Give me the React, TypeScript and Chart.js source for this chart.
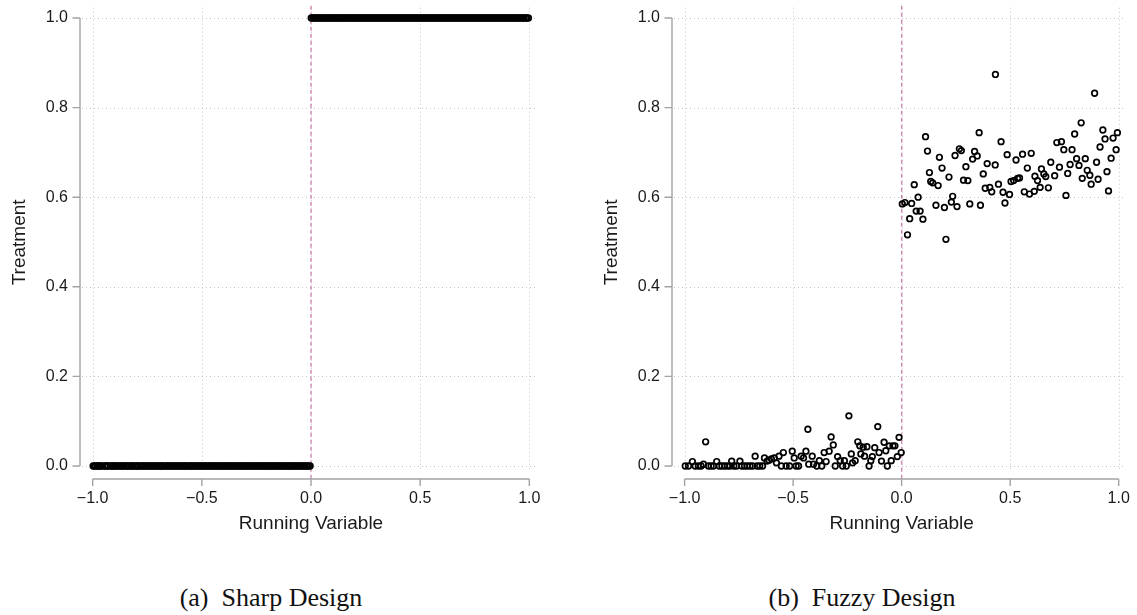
import { useEffect, useRef } from "react";
import { Chart, registerables } from "chart.js";

Chart.register(...registerables);

// Sharp design: running variable below and above the cutoff.
const sharpRunningBelow = [
  -0.998, -0.991, -0.987, -0.979, -0.972, -0.97, -0.962, -0.955, -0.944, -0.94,
  -0.933, -0.929, -0.918, -0.912, -0.907, -0.899, -0.896, -0.889, -0.88, -0.874,
  -0.868, -0.861, -0.857, -0.846, -0.842, -0.835, -0.826, -0.821, -0.816, -0.807,
  -0.801, -0.794, -0.79, -0.781, -0.775, -0.767, -0.763, -0.755, -0.747, -0.743,
  -0.734, -0.728, -0.722, -0.713, -0.709, -0.701, -0.694, -0.688, -0.681, -0.677,
  -0.668, -0.66, -0.655, -0.648, -0.641, -0.636, -0.627, -0.622, -0.614, -0.609,
  -0.601, -0.596, -0.588, -0.58, -0.575, -0.569, -0.561, -0.554, -0.548, -0.542,
  -0.535, -0.527, -0.523, -0.514, -0.508, -0.502, -0.495, -0.487, -0.483, -0.474,
  -0.468, -0.463, -0.455, -0.449, -0.441, -0.436, -0.428, -0.421, -0.416, -0.409,
  -0.401, -0.396, -0.39, -0.382, -0.375, -0.37, -0.362, -0.357, -0.349, -0.342,
  -0.336, -0.329, -0.322, -0.317, -0.309, -0.303, -0.296, -0.29, -0.283, -0.276,
  -0.27, -0.264, -0.256, -0.25, -0.243, -0.237, -0.231, -0.224, -0.216, -0.211,
  -0.204, -0.198, -0.19, -0.185, -0.177, -0.171, -0.164, -0.158, -0.151, -0.144,
  -0.139, -0.131, -0.125, -0.119, -0.11, -0.105, -0.098, -0.093, -0.084, -0.079,
  -0.072, -0.065, -0.06, -0.052, -0.046, -0.039, -0.032, -0.026, -0.018, -0.012,
  -0.004,
];
const sharpRunningAbove = [
  0.001, 0.008, 0.013, 0.021, 0.027, 0.034, 0.04, 0.047, 0.053, 0.061,
  0.066, 0.073, 0.08, 0.086, 0.092, 0.1, 0.105, 0.112, 0.119, 0.125,
  0.131, 0.139, 0.144, 0.151, 0.158, 0.164, 0.171, 0.177, 0.183, 0.191,
  0.196, 0.203, 0.21, 0.216, 0.222, 0.23, 0.235, 0.242, 0.249, 0.255,
  0.262, 0.268, 0.274, 0.282, 0.287, 0.294, 0.301, 0.307, 0.313, 0.321,
  0.326, 0.333, 0.34, 0.346, 0.352, 0.36, 0.365, 0.372, 0.379, 0.385,
  0.391, 0.399, 0.404, 0.411, 0.418, 0.424, 0.43, 0.438, 0.443, 0.45,
  0.457, 0.463, 0.469, 0.477, 0.482, 0.489, 0.496, 0.502, 0.508, 0.516,
  0.521, 0.528, 0.535, 0.541, 0.547, 0.555, 0.56, 0.567, 0.574, 0.58,
  0.586, 0.594, 0.599, 0.606, 0.613, 0.619, 0.625, 0.633, 0.638, 0.645,
  0.652, 0.658, 0.664, 0.672, 0.677, 0.684, 0.691, 0.697, 0.703, 0.711,
  0.716, 0.723, 0.73, 0.736, 0.742, 0.75, 0.755, 0.762, 0.769, 0.775,
  0.781, 0.789, 0.794, 0.801, 0.808, 0.814, 0.82, 0.828, 0.833, 0.84,
  0.847, 0.853, 0.859, 0.867, 0.872, 0.879, 0.886, 0.892, 0.898, 0.906,
  0.911, 0.918, 0.925, 0.931, 0.937, 0.945, 0.95, 0.957, 0.964, 0.97,
  0.976, 0.984, 0.989, 0.996,
];
// Treatment status is fixed on each side of the cutoff in the sharp design.
const sharpTreatmentBelow = 0;
const sharpTreatmentAbove = 1;

// Fuzzy design: running variable and treatment share.
const fuzzyRunning = [
  -0.997, -0.982, -0.964, -0.951, -0.936, -0.924, -0.913, -0.903, -0.89, -0.878,
  -0.867, -0.852, -0.84, -0.828, -0.816, -0.803, -0.791, -0.783, -0.773, -0.761,
  -0.745, -0.736, -0.724, -0.712, -0.699, -0.687, -0.675, -0.666, -0.654, -0.641,
  -0.632, -0.62, -0.611, -0.6, -0.587, -0.577, -0.565, -0.554, -0.545, -0.532,
  -0.516, -0.504, -0.495, -0.486, -0.475, -0.463, -0.452, -0.441, -0.432, -0.428,
  -0.412, -0.406, -0.391, -0.379, -0.368, -0.357, -0.348, -0.334, -0.325, -0.315,
  -0.306, -0.295, -0.283, -0.272, -0.264, -0.255, -0.243, -0.232, -0.226, -0.214,
  -0.202, -0.193, -0.188, -0.177, -0.171, -0.16, -0.15, -0.142, -0.135, -0.124,
  -0.11, -0.104, -0.093, -0.081, -0.073, -0.066, -0.057, -0.048, -0.04, -0.031,
  -0.02, -0.012, -0.002,
  0.003, 0.015, 0.046, 0.027, 0.037, 0.058, 0.076, 0.067, 0.085, 0.098,
  0.11, 0.119, 0.128, 0.134, 0.143, 0.158, 0.168, 0.174, 0.186, 0.197,
  0.204, 0.218, 0.229, 0.235, 0.246, 0.255, 0.266, 0.275, 0.285, 0.296,
  0.305, 0.314, 0.327, 0.336, 0.348, 0.357, 0.363, 0.376, 0.385, 0.394,
  0.406, 0.415, 0.431, 0.432, 0.446, 0.458, 0.467, 0.476, 0.486, 0.497,
  0.504, 0.516, 0.527, 0.534, 0.543, 0.557, 0.565, 0.579, 0.589, 0.597,
  0.611, 0.614, 0.626, 0.638, 0.644, 0.655, 0.664, 0.676, 0.687, 0.705,
  0.715, 0.727, 0.736, 0.747, 0.757, 0.765, 0.776, 0.785, 0.797, 0.806,
  0.817, 0.827, 0.832, 0.846, 0.855, 0.867, 0.873, 0.889, 0.898, 0.905,
  0.914, 0.927, 0.937, 0.946, 0.953, 0.965, 0.974, 0.988, 0.994,
];
const fuzzyTreatment = [
  0, 0, 0.01, 0, 0, 0, 0.004, 0.054, 0, 0,
  0, 0.01, 0, 0, 0, 0, 0, 0.011, 0, 0,
  0.011, 0, 0, 0, 0, 0, 0.022, 0, 0, 0,
  0.018, 0.011, 0.013, 0.016, 0.018, 0.007, 0.022, 0, 0.03, 0,
  0, 0.033, 0.018, 0, 0, 0.022, 0.018, 0.033, 0.082, 0.004,
  0.022, 0.004, 0, 0.012, 0, 0.03, 0.01, 0.033, 0.065, 0.047,
  0, 0.021, 0.012, 0, 0.012, 0, 0.112, 0.027, 0.007, 0.012,
  0.054, 0.045, 0.027, 0.042, 0.022, 0.043, 0, 0.012, 0.021, 0.041,
  0.088, 0.03, 0.011, 0.053, 0.034, 0, 0.045, 0.012, 0.045, 0.045,
  0.021, 0.064, 0.03,
  0.585, 0.588, 0.586, 0.516, 0.552, 0.628, 0.6, 0.569, 0.569, 0.551,
  0.735, 0.703, 0.655, 0.635, 0.632, 0.582, 0.626, 0.689, 0.665, 0.577,
  0.506, 0.645, 0.589, 0.602, 0.693, 0.579, 0.708, 0.704, 0.638, 0.668,
  0.637, 0.585, 0.685, 0.702, 0.692, 0.744, 0.582, 0.652, 0.62, 0.675,
  0.622, 0.612, 0.672, 0.874, 0.629, 0.724, 0.611, 0.587, 0.695, 0.606,
  0.635, 0.637, 0.683, 0.642, 0.643, 0.696, 0.612, 0.665, 0.607, 0.698,
  0.613, 0.647, 0.637, 0.622, 0.663, 0.652, 0.646, 0.621, 0.678, 0.648,
  0.722, 0.667, 0.724, 0.706, 0.604, 0.653, 0.673, 0.706, 0.741, 0.686,
  0.671, 0.766, 0.642, 0.686, 0.66, 0.649, 0.629, 0.832, 0.678, 0.64,
  0.712, 0.75, 0.73, 0.657, 0.614, 0.687, 0.732, 0.706, 0.744,
];

const xTickValues = [-1, -0.5, 0, 0.5, 1];
const yTickValues = [0, 0.2, 0.4, 0.6, 0.8, 1];
const cutoff = 0;

const xAxisTitle = "Running Variable";
const yAxisTitle = "Treatment";
const panelCaptions = ["(a)  Sharp Design", "(b)  Fuzzy Design"];

const SANS = "'Liberation Sans', Arial, Helvetica, sans-serif";
const SERIF = "'Liberation Serif', 'Times New Roman', Times, serif";

const fmtTick = (v: number) => v.toFixed(1).replace("-", "\u2212");

type Pt = { x: number; y: number };

const sharpPoints: Pt[] = [
  ...sharpRunningBelow.map((x) => ({ x, y: sharpTreatmentBelow })),
  ...sharpRunningAbove.map((x) => ({ x, y: sharpTreatmentAbove })),
];
const fuzzyPoints: Pt[] = fuzzyRunning.map((x, i) => ({ x, y: fuzzyTreatment[i] }));

// Dotted grid, cutoff line and base-graphics style axes (axis lines span only the tick range).
const baseAxesPlugin = {
  id: "baseAxes",
  beforeDatasetsDraw(chart: any, _args: any, opts: any) {
    const { ctx, chartArea, scales } = chart;
    const xs = scales.x;
    const ys = scales.y;
    ctx.save();
    ctx.strokeStyle = "#c6c6c6";
    ctx.lineWidth = 1;
    ctx.setLineDash([1, 3]);
    const gl = chartArea.left + 2;
    const gr = opts.gridRight;
    for (const v of yTickValues) {
      const py = Math.round(ys.getPixelForValue(v)) + 0.5;
      ctx.beginPath();
      ctx.moveTo(gl, py);
      ctx.lineTo(gr, py);
      ctx.stroke();
    }
    const gt = chartArea.top + 2;
    const gb = ys.getPixelForValue(-0.006);
    for (const v of xTickValues) {
      const px = Math.round(xs.getPixelForValue(v)) + 0.5;
      ctx.beginPath();
      ctx.moveTo(px, gt);
      ctx.lineTo(px, gb);
      ctx.stroke();
    }
    // cutoff
    ctx.strokeStyle = "#d089b3";
    ctx.lineWidth = 1.4;
    ctx.setLineDash([4, 3]);
    const cx = xs.getPixelForValue(cutoff);
    ctx.beginPath();
    ctx.moveTo(cx, chartArea.top);
    ctx.lineTo(cx, chartArea.bottom);
    ctx.stroke();
    ctx.restore();
  },
  afterDraw(chart: any) {
    const { ctx, chartArea, scales } = chart;
    const xs = scales.x;
    const ys = scales.y;
    ctx.save();
    ctx.strokeStyle = "#a3a3a3";
    ctx.lineWidth = 1.4;
    ctx.setLineDash([]);
    const ax = chartArea.left;
    const y0 = ys.getPixelForValue(yTickValues[0]);
    const y1 = ys.getPixelForValue(yTickValues[yTickValues.length - 1]);
    ctx.beginPath();
    ctx.moveTo(ax, y0);
    ctx.lineTo(ax, y1);
    for (const v of yTickValues) {
      const py = ys.getPixelForValue(v);
      ctx.moveTo(ax, py);
      ctx.lineTo(ax - 7.5, py);
    }
    ctx.stroke();
    const ay = chartArea.bottom;
    const x0 = xs.getPixelForValue(xTickValues[0]);
    const x1 = xs.getPixelForValue(xTickValues[xTickValues.length - 1]);
    ctx.beginPath();
    ctx.moveTo(x0, ay);
    ctx.lineTo(x1, ay);
    for (const v of xTickValues) {
      const px = xs.getPixelForValue(v);
      ctx.moveTo(px, ay);
      ctx.lineTo(px, ay + 7);
    }
    ctx.stroke();
    ctx.restore();
  },
};

const CANVAS_H = 540;
const AREA_RIGHT = 542;

function Panel({
  points,
  left,
  width,
  gridRight,
}: {
  points: Pt[];
  left: number;
  width: number;
  gridRight: number;
}) {
  const ref = useRef<HTMLCanvasElement | null>(null);

  useEffect(() => {
    if (!ref.current) return;
    const chart = new Chart(ref.current, {
      type: "scatter",
      data: {
        datasets: [
          {
            data: points,
            pointStyle: "circle",
            pointRadius: 2.8,
            pointBorderWidth: 1.7,
            borderColor: "#000",
            backgroundColor: "rgba(0,0,0,0)",
            pointBackgroundColor: "rgba(0,0,0,0)",
            pointBorderColor: "#000",
            showLine: false,
          },
        ],
      },
      options: {
        animation: false,
        responsive: false,
        events: [],
        layout: { padding: { top: 5, right: width - AREA_RIGHT, bottom: 0, left: 0 } },
        plugins: {
          legend: { display: false },
          tooltip: { enabled: false },
          baseAxes: { gridRight },
        } as any,
        scales: {
          x: {
            type: "linear",
            min: -1.058,
            max: 1.058,
            grid: { display: false, drawTicks: false },
            border: { display: false },
            afterBuildTicks: (s: any) => {
              s.ticks = xTickValues.map((value) => ({ value }));
            },
            afterFit: (s: any) => {
              s.height = 61;
              s.paddingLeft = 0;
              s.paddingRight = 0;
            },
            ticks: {
              padding: 10,
              maxRotation: 0,
              autoSkip: false,
              color: "#1a1a1a",
              font: { family: SANS, size: 16 },
              callback: (v: any) => fmtTick(Number(v)),
            },
            title: {
              display: true,
              text: xAxisTitle,
              color: "#1a1a1a",
              font: { family: SANS, size: 19 },
              padding: { top: 0, bottom: 5 },
            },
          },
          y: {
            type: "linear",
            min: -0.029,
            max: 1.0274,
            grid: { display: false, drawTicks: false },
            border: { display: false },
            afterBuildTicks: (s: any) => {
              s.ticks = yTickValues.map((value) => ({ value }));
            },
            afterFit: (s: any) => {
              s.width = 80;
              s.paddingTop = 0;
              s.paddingBottom = 0;
            },
            ticks: {
              padding: 12,
              autoSkip: false,
              color: "#1a1a1a",
              font: { family: SANS, size: 16 },
              callback: (v: any) => fmtTick(Number(v)),
            },
            title: {
              display: true,
              text: yAxisTitle,
              color: "#1a1a1a",
              font: { family: SANS, size: 19 },
              padding: { top: 8, bottom: 0 },
            },
          },
        },
      },
      plugins: [baseAxesPlugin],
    });
    return () => chart.destroy();
  }, [points, width, gridRight]);

  return (
    <canvas
      ref={ref}
      width={width}
      height={CANVAS_H}
      style={{ position: "absolute", left, top: 0, width, height: CANVAS_H }}
    />
  );
}

function Caption({ text, center }: { text: string; center: number }) {
  return (
    <div
      style={{
        position: "absolute",
        left: center - 200,
        width: 400,
        top: 585,
        textAlign: "center",
        fontFamily: SERIF,
        fontSize: 26,
        lineHeight: "26px",
        whiteSpace: "pre",
        color: "#111",
      }}
    >
      {text}
    </div>
  );
}

export default function App() {
  useEffect(() => {
    document.body.style.margin = "0";
    document.body.style.background = "#fff";
  }, []);
  return (
    <div style={{ position: "relative", width: 1137, height: 615, background: "#fff", overflow: "hidden" }}>
      <Panel points={sharpPoints} left={0} width={592} gridRight={538} />
      <Panel points={fuzzyPoints} left={592} width={545} gridRight={534} />
      <Caption text={panelCaptions[0]} center={271} />
      <Caption text={panelCaptions[1]} center={862} />
    </div>
  );
}
